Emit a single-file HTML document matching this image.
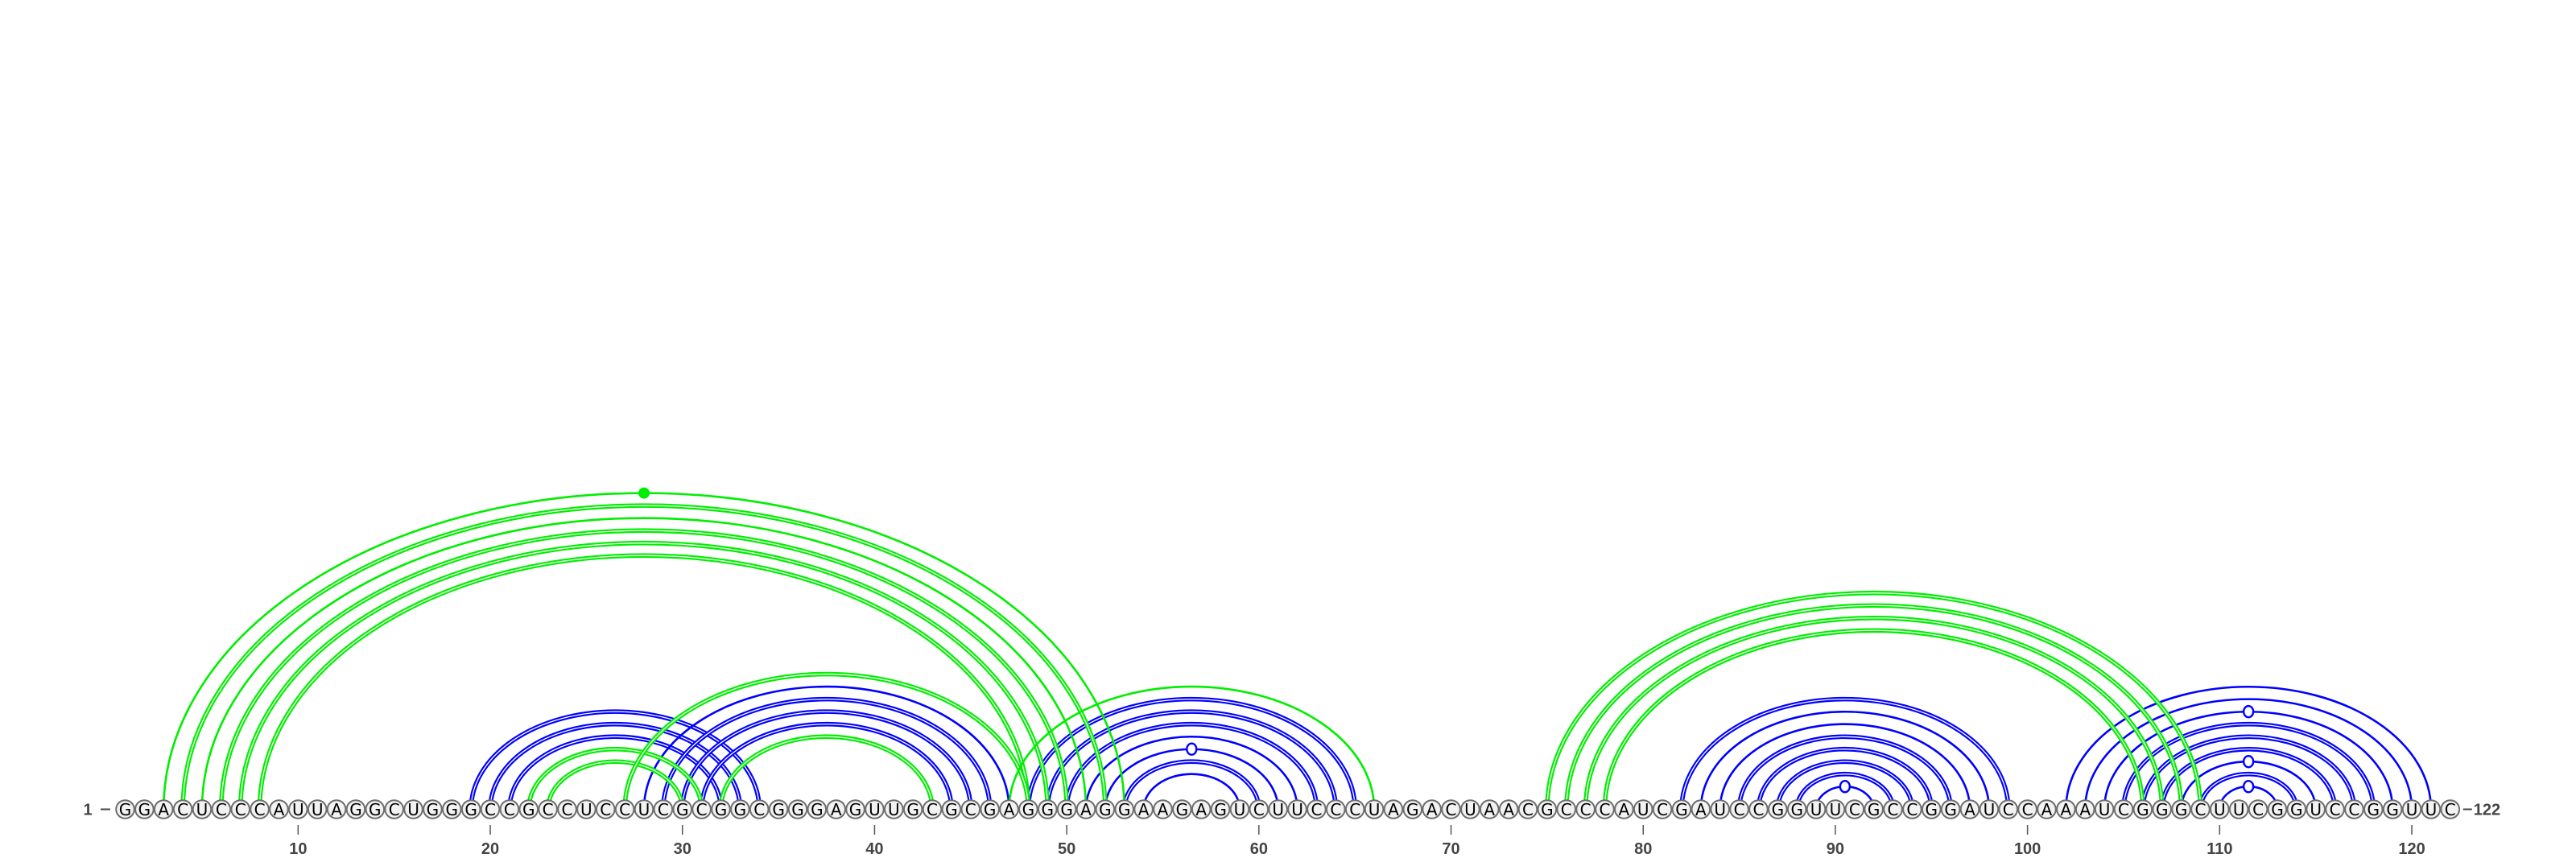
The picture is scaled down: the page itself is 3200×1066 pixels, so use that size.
<!DOCTYPE html>
<html><head><meta charset="utf-8"><style>
html,body{margin:0;padding:0;background:#fff;}
svg{display:block;}
</style></head><body>
<svg id="chart" width="3200" height="1066" viewBox="0 0 3200 1066" xmlns="http://www.w3.org/2000/svg">
<g id="arcs-blue"></g>
<g id="arcs-green"></g>
<g id="markers"></g>
<g id="nucs"></g>
<g id="axis"></g>
</svg>
<script>
const sequence = "GGACUCCCAUUAGGCUGGGCCGCCUCCUCGCGGCGGGAGUUGCGCGAGGGAGGAAGAGUCUUCCCUAGACUAACGCCCAUCGAUCCGGUUCGCCGGAUCCAAAUCGGGCUUCGGUCCGGUUC";
const tickPositions = [10,20,30,40,50,60,70,80,90,100,110,120];
const greenStart = [3,4,5,6,7,8,22,23,27,32,47,75,76,77,78];
const greenEnd   = [53,52,51,50,49,48,31,30,48,43,66,109,108,107,106];
const greenDouble= [0,1,0,1,1,1,1,1,1,1,0,1,1,1,1];
const blueStart = [19,20,21,28,29,30,31,48,49,50,51,52,53,54,82,83,84,85,86,87,88,89,102,103,104,105,106,107,108,109,110];
const blueEnd   = [34,33,32,47,46,45,44,65,64,63,62,61,60,59,99,98,97,96,95,94,93,92,121,120,119,118,117,116,115,114,113];
const blueDouble= [1,1,1,0,1,1,1,1,1,1,0,0,1,0,1,0,0,1,1,1,1,0,0,0,0,1,1,1,0,1,0];
const openMarkerStart = [52,89,104,108,110];
const openMarkerEnd   = [61,92,119,115,113];
const filledMarkerStart = [3];
const filledMarkerEnd   = [53];

const NS = "http://www.w3.org/2000/svg";
const BASE_Y = 1005.5;
function xPos(i){ return 155.5 + (i-1)*23.87; }
function arcHeight(half){ return 0.65*half + 5; }
function mk(tag, attrs, parent){
  const el = document.createElementNS(NS, tag);
  for (const k in attrs) el.setAttribute(k, attrs[k]);
  parent.appendChild(el);
  return el;
}
function arcPath(a,b){
  const x1=xPos(a), x2=xPos(b), half=(x2-x1)/2, h=arcHeight(half);
  return "M"+x1+","+BASE_Y+" A"+half+","+h+" 0 0 1 "+x2+","+BASE_Y;
}
function drawArcs(starts, ends, dbl, color, group, label){
  for (let k=0;k<starts.length;k++){
    const d = arcPath(starts[k], ends[k]);
    if (dbl[k]){
      const p = mk("path",{d:d,fill:"none",stroke:color,"stroke-width":5.6},group);
      
      
      const w = mk("path",{d:d,fill:"none",stroke:"#fff","stroke-width":1.3},group);
      
      
    } else {
      const p = mk("path",{d:d,fill:"none",stroke:color,"stroke-width":2.6},group);
      
      
    }
  }
}
drawArcs(blueStart, blueEnd, blueDouble, "#0000ff", document.getElementById("arcs-blue"), "blue");
drawArcs(greenStart, greenEnd, greenDouble, "#00ee00", document.getElementById("arcs-green"), "green");

const mg = document.getElementById("markers");
for (let k=0;k<openMarkerStart.length;k++){
  const a=openMarkerStart[k], b=openMarkerEnd[k];
  const half=(xPos(b)-xPos(a))/2;
  const c = mk("ellipse",{cx:(xPos(a)+xPos(b))/2, cy:BASE_Y-arcHeight(half), rx:6, ry:7, fill:"#fff", stroke:"#0000ff","stroke-width":2.4}, mg);
  
  
}
for (let k=0;k<filledMarkerStart.length;k++){
  const a=filledMarkerStart[k], b=filledMarkerEnd[k];
  const half=(xPos(b)-xPos(a))/2;
  const c = mk("circle",{cx:(xPos(a)+xPos(b))/2, cy:BASE_Y-arcHeight(half), r:7, fill:"#00ee00"}, mg);
  
  
}

const ng = document.getElementById("nucs");
for (let i=1;i<=sequence.length;i++){
  const x=xPos(i);
  const c = mk("circle",{cx:x, cy:BASE_Y, r:11.3, fill:"#f2f2f2", stroke:"#6e6e6e","stroke-width":2}, ng);
  
  
  const t = mk("text",{x:x, y:BASE_Y+7.5, "text-anchor":"middle","font-family":"DejaVu Sans, Liberation Sans, sans-serif","font-size":20, fill:"#000"}, ng);
  t.textContent = sequence[i-1];
  
  
}

const ag = document.getElementById("axis");
const s1 = mk("text",{x:109,y:BASE_Y+7,"text-anchor":"middle","font-family":"Liberation Sans, sans-serif","font-size":20,"font-weight":"bold",fill:"#444"},ag);
s1.textContent="1";


const d1 = mk("line",{x1:125,x2:137,y1:BASE_Y,y2:BASE_Y,stroke:"#444","stroke-width":2},ag);


const xe = xPos(sequence.length);
const d2 = mk("line",{x1:xe+16,x2:xe+27,y1:BASE_Y,y2:BASE_Y,stroke:"#444","stroke-width":2},ag);


const s2 = mk("text",{x:xe+29,y:BASE_Y+7,"text-anchor":"start","font-family":"Liberation Sans, sans-serif","font-size":20,"font-weight":"bold",fill:"#444"},ag);
s2.textContent=String(sequence.length);


for (const p of tickPositions){
  const x=xPos(p);
  const l = mk("line",{x1:x,x2:x,y1:1025,y2:1037,stroke:"#555","stroke-width":1.5},ag);
  
  
  const t = mk("text",{x:x,y:1061,"text-anchor":"middle","font-family":"Liberation Sans, sans-serif","font-size":20,"font-weight":"bold",fill:"#444"},ag);
  t.textContent=String(p);
  
  
}
</script>
</body></html>
